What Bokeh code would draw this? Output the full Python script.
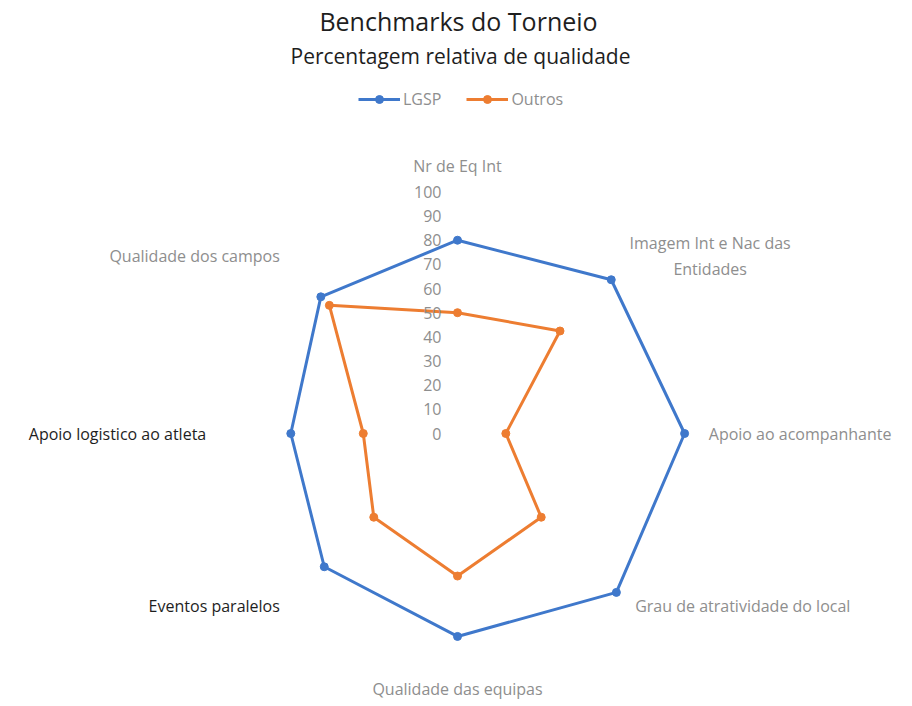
import numpy as np
from bokeh.plotting import figure
from bokeh.models import Range1d, Label, Legend, LegendItem, ColumnDataSource
from bokeh.core.properties import value
from bokeh.embed import file_html
from bokeh.resources import INLINE

# ---- data ----
categories = [
    "Nr de Eq Int",
    "Imagem Int e Nac das\nEntidades",
    "Apoio ao acompanhante",
    "Grau de atratividade do local",
    "Qualidade das equipas",
    "Eventos paralelos",
    "Apoio logistico ao atleta",
    "Qualidade dos campos",
]
lgsp = [80, 90, 94, 93, 84, 78, 69, 80]
outros = [50, 60, 20, 49, 59, 49, 39, 75]
series_names = ["LGSP", "Outros"]
scale_ticks = [0, 10, 20, 30, 40, 50, 60, 70, 80, 90, 100]

title_text = "Benchmarks do Torneio"
subtitle_text = "Percentagem relativa de qualidade"

# ---- styling / layout ----
W, H = 904, 702
U = 2.416            # pixels per value unit
CX, CY = 457, 433    # radar centre in canvas px (from top-left)
FONT = "Open Sans"
BLUE = "#3F78CB"
ORANGE = "#ED7D31"
GREY = "#8E8E8E"
DARK = "#1E1E1E"
label_colors = [GREY, GREY, GREY, GREY, GREY, DARK, DARK, GREY]

p = figure(width=W, height=H, output_backend="svg", toolbar_location=None,
           x_range=Range1d(-CX / U, (W - CX) / U),
           y_range=Range1d(-(H - CY) / U, CY / U),
           min_border=0, outline_line_color=None)
p.axis.visible = False
p.grid.visible = False
p.background_fill_color = "white"
p.border_fill_color = "white"

n = len(categories)
ang = np.arange(n) * 2 * np.pi / n


def polar(vals):
    v = np.asarray(vals, dtype=float)
    return v * np.sin(ang), v * np.cos(ang)


renderers = []
for vals, col in [(lgsp, BLUE), (outros, ORANGE)]:
    xs, ys = polar(vals)
    xl = list(xs) + [xs[0]]
    yl = list(ys) + [ys[0]]
    ln = p.line(xl, yl, line_color=col, line_width=3, line_join="round")
    sc = p.scatter(xs, ys, size=8, fill_color=col, line_color=col)
    renderers.append([ln, sc])

# scale tick labels along vertical axis
p.text(x=[0] * len(scale_ticks), y=scale_ticks, text=[str(t) for t in scale_ticks],
       x_offset=-16, text_align="right", text_baseline="middle",
       text_font=value(FONT), text_font_size="16px", text_color=GREY)

# category labels
R_LAB = 104
lx, ly, aligns, bases, xo, yo = [], [], [], [], [], []
for i, a in enumerate(ang):
    s, c = np.sin(a), np.cos(a)
    lx.append(R_LAB * s)
    ly.append(R_LAB * c)
    if s > 0.1:
        aligns.append("left")
    elif s < -0.1:
        aligns.append("right")
    else:
        aligns.append("center")
    if c > 0.9:
        bases.append("bottom"); yo.append(-5)
    elif c < -0.9:
        bases.append("top"); yo.append(-7)
    elif c < -0.1:
        bases.append("middle"); yo.append(-5)
    else:
        bases.append("middle"); yo.append(0)
    xo.append(0)
# two-line NE label centred on its block
aligns[1] = "center"; xo[1] = 75

src = ColumnDataSource(dict(x=lx, y=ly, t=categories, al=aligns, bl=bases,
                            xo=xo, yo=yo, col=label_colors))
p.text(x="x", y="y", text="t", text_align="al", text_baseline="bl",
       x_offset="xo", y_offset="yo", text_color="col", source=src,
       text_font=value(FONT), text_font_size="16px", text_line_height=1.2)

# titles
p.add_layout(Label(x=CX + 1, y=H - 20, x_units="screen", y_units="screen",
                   text=title_text, text_align="center", text_baseline="middle",
                   text_font=FONT, text_font_size="25px", text_color="#1E1E1E"))
p.add_layout(Label(x=CX + 3, y=H - 55, x_units="screen", y_units="screen",
                   text=subtitle_text, text_align="center", text_baseline="middle",
                   text_font=FONT, text_font_size="21px", text_color="#1E1E1E"))

# legend
legend = Legend(items=[LegendItem(label=series_names[0], renderers=renderers[0]),
                       LegendItem(label=series_names[1], renderers=renderers[1])],
                orientation="horizontal", location=(358, H - 110),
                glyph_width=42, glyph_height=20, label_standoff=3, spacing=25,
                padding=0, margin=0, border_line_color=None,
                background_fill_alpha=0,
                label_text_font=FONT, label_text_font_size="16px",
                label_text_color=GREY)
p.add_layout(legend)

open("out.html", "w").write(file_html(p, INLINE))
